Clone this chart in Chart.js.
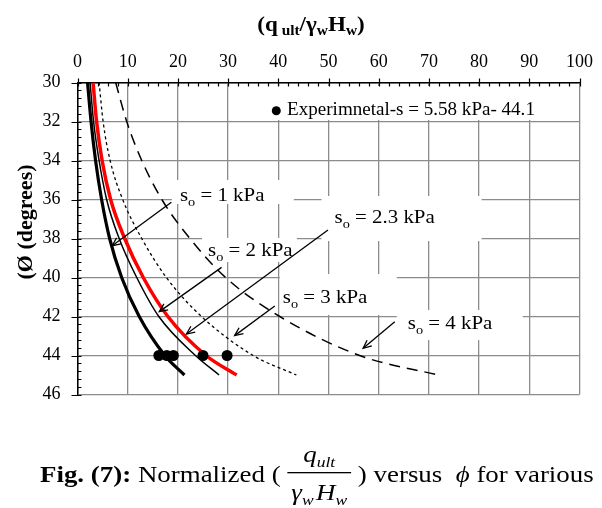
<!DOCTYPE html>
<html>
<head>
<meta charset="utf-8">
<script src="https://cdn.jsdelivr.net/npm/chart.js@4.4.0/dist/chart.umd.min.js"></script>
<style>
html, body { margin: 0; padding: 0; background: #fff; }
#wrap { width: 602px; height: 508px; }
</style>
</head>
<body>
<div id="wrap"><canvas id="chart" width="602" height="508"></canvas></div>
<script>
// values (phi in degrees, q normalised)
const phi  = [30, 32, 34, 36, 38, 40, 42, 44, 45];
const qS1  = [2.0, 2.7, 3.6, 4.8, 6.4, 8.8, 12.3, 17.4, 21.3];
const qS2  = [2.5, 3.2, 4.3, 5.8, 8.3, 11.8, 16.2, 23.5, 28.2];
const qS23 = [3.1, 3.8, 4.9, 6.6, 9.4, 13.1, 18.0, 25.6, 31.7];
const qS3  = [4.3, 5.1, 6.5, 9.0, 12.8, 17.7, 24.7, 35.0, 43.6];
const qS4  = [7.6, 9.8, 12.8, 16.8, 22.4, 29.5, 40.3, 56.2, 71.8];
const expQ   = [16.2, 17.8, 19.1, 25.0, 29.8];
const expPhi = [44, 44, 44, 44, 44];
const soValues = ['1', '2', '2.3', '3', '4'];
const legendText = 'Experimnetal-s = 5.58 kPa- 44.1';

const SERIF = '"Liberation Serif", "Times New Roman", serif';
Chart.defaults.font.family = SERIF;

// annotation layout, in axis units
const notes = [
  { text: [20.4, 36.06], box: [18.8, 35.0, 43.1, 36.23],  from: [18.7, 36.14], to: [6.9, 38.37] },
  { text: [26.0, 38.90], box: [24.8, 37.97, 43.7, 39.21], from: [28.7, 39.48], to: [16.3, 41.75] },
  { text: [51.2, 37.22], box: [48.6, 35.82, 80.5, 38.13], from: [49.9, 37.56], to: [21.7, 42.9] },
  { text: [40.9, 41.32], box: [40.3, 39.82, 63.6, 41.92], from: [39.3, 41.46], to: [31.3, 42.98] },
  { text: [65.8, 42.64], box: [63.6, 41.67, 88.7, 43.21], from: [63.2, 42.27], to: [56.9, 43.63] }
];
const legendBox = [34.7, 30.18, 93.0, 31.92];
const legendDot = [39.6, 31.45];
const legendAt = [41.75, 31.67];

function pts(xs, ys) { return xs.map((v, i) => ({ x: v, y: ys[i] })); }

function drawRuns(ctx, runs, x, y, sx) {
  ctx.save();
  ctx.translate(x, y);
  ctx.scale(sx, 1);
  let cx = 0;
  runs.forEach(r => {
    ctx.font = r.f + ' ' + SERIF;
    ctx.fillText(r.t, cx + (r.dx || 0), r.dy || 0);
    cx += ctx.measureText(r.t).width + (r.dx || 0);
  });
  ctx.restore();
  return cx * sx;
}
function runsWidth(ctx, runs, sx) {
  ctx.save();
  let w = 0;
  runs.forEach(r => { ctx.font = r.f + ' ' + SERIF; w += ctx.measureText(r.t).width + (r.dx || 0); });
  ctx.restore();
  return w * sx;
}

function arrow(ctx, x0, y0, x1, y1) {
  ctx.beginPath(); ctx.moveTo(x0, y0); ctx.lineTo(x1, y1); ctx.stroke();
  const a = Math.atan2(y1 - y0, x1 - x0), L = 9, w = 0.42;
  ctx.beginPath();
  ctx.moveTo(x1 - L * Math.cos(a - w), y1 - L * Math.sin(a - w));
  ctx.lineTo(x1, y1);
  ctx.lineTo(x1 - L * Math.cos(a + w), y1 - L * Math.sin(a + w));
  ctx.stroke();
}

const decor = {
  id: 'decor',
  beforeDatasetsDraw(chart) {
    const { ctx, scales: { x, y } } = chart;
    ctx.save();
    ctx.fillStyle = '#fff';
    notes.map(n => n.box).concat([legendBox]).forEach(b => {
      const x0 = x.getPixelForValue(b[0]), y0 = y.getPixelForValue(b[1]);
      const x1 = x.getPixelForValue(b[2]), y1 = y.getPixelForValue(b[3]);
      ctx.fillRect(x0, y0, x1 - x0, y1 - y0);
    });
    ctx.restore();
  },
  afterDatasetsDraw(chart) {
    const { ctx, scales: { x, y } } = chart;
    ctx.save();
    ctx.strokeStyle = '#000';
    ctx.fillStyle = '#000';
    ctx.lineWidth = 1.3;
    notes.forEach((n, i) => {
      arrow(ctx, x.getPixelForValue(n.from[0]), y.getPixelForValue(n.from[1]),
                 x.getPixelForValue(n.to[0]), y.getPixelForValue(n.to[1]));
      drawRuns(ctx, [
        { t: 's', f: '19px' },
        { t: 'o', f: '13px', dy: 5 },
        { t: ' = ' + soValues[i] + ' kPa', f: '19px' }
      ], x.getPixelForValue(n.text[0]), y.getPixelForValue(n.text[1]), 1.1);
    });
    // legend
    ctx.beginPath();
    ctx.arc(x.getPixelForValue(legendDot[0]), y.getPixelForValue(legendDot[1]), 4.5, 0, Math.PI * 2);
    ctx.fill();
    drawRuns(ctx, [{ t: legendText, f: '18.5px' }],
      x.getPixelForValue(legendAt[0]), y.getPixelForValue(legendAt[1]), 1.03);
    ctx.restore();
  },
  afterDraw(chart) {
    const { ctx, chartArea: ca, scales: { x, y } } = chart;
    ctx.save();
    ctx.strokeStyle = '#000';
    ctx.lineWidth = 1.2;
    ctx.beginPath();
    for (let k = 0; k <= 50; k++) {
      const px = Math.round(x.getPixelForValue(k * 2)) + 0.5;
      ctx.moveTo(px, ca.top - (k % 5 === 0 ? 4 : 0));
      ctx.lineTo(px, ca.top + 4);
    }
    for (let k = 0; k <= 40; k++) {
      const py = Math.round(y.getPixelForValue(30 + k * 0.4)) + 0.5;
      ctx.moveTo(ca.left - (k % 5 === 0 ? 6 : 0), py);
      ctx.lineTo(ca.left + 4, py);
    }
    ctx.stroke();

    ctx.fillStyle = '#000';
    ctx.textBaseline = 'alphabetic';
    // top title
    const tRuns = [
      { t: '(q', f: 'bold 21px' },
      { t: ' ult', f: 'bold 14px', dy: 4 },
      { t: '/γ', f: 'bold 21px' },
      { t: 'w', f: 'bold 14px', dy: 4 },
      { t: 'H', f: 'bold 21px' },
      { t: 'w', f: 'bold 14px', dy: 4 },
      { t: ')', f: 'bold 21px' }
    ];
    const tw = runsWidth(ctx, tRuns, 1.1);
    drawRuns(ctx, tRuns, 311 - tw / 2, 31, 1.1);

    // y title
    ctx.save();
    ctx.translate(26, 222);
    ctx.rotate(-Math.PI / 2);
    ctx.font = 'bold 22px ' + SERIF;
    ctx.textAlign = 'center';
    ctx.textBaseline = 'middle';
    ctx.fillText('(Ø (degrees)', 0, 0);
    ctx.restore();

    // caption
    const sx = 1.17, base = 482;
    let cx = 40;
    cx += drawRuns(ctx, [{ t: 'Fig. (7):', f: 'bold 23px' }, { t: ' Normalized ( ', f: '23px' }], cx, base, sx);
    const num = [{ t: 'q', f: 'italic 23px' }, { t: 'ult', f: 'italic 15px', dy: 5 }];
    const den = [{ t: 'γ', f: 'italic 23px' }, { t: 'w', f: 'italic 15px', dy: 5 },
                 { t: 'H', f: 'italic 23px', dx: 2 }, { t: 'w', f: 'italic 15px', dy: 5 }];
    const nw = runsWidth(ctx, num, sx), dw = runsWidth(ctx, den, sx);
    const fw = Math.max(nw, dw) + 8;
    drawRuns(ctx, num, cx + (fw - nw) / 2, base - 20, sx);
    drawRuns(ctx, den, cx + (fw - dw) / 2, base + 18, sx);
    ctx.fillRect(cx, base - 10, fw, 1.3);
    cx += fw;
    cx += drawRuns(ctx, [{ t: ' ) versus  ', f: '23px' }, { t: 'ϕ', f: 'italic 23px' },
                         { t: ' for various', f: '23px' }], cx, base, sx);
    ctx.restore();
  }
};

const gridStyle = { color: '#8c8c8c', lineWidth: 1.3, drawTicks: false };
const tickFont = { family: SERIF, size: 18 };
const curve = { showLine: true, pointRadius: 0, cubicInterpolationMode: 'monotone' };

new Chart(document.getElementById('chart'), {
  type: 'scatter',
  data: {
    datasets: [
      { label: 'Experimental', data: pts(expQ, expPhi), pointRadius: 5.5, backgroundColor: '#000',
        borderWidth: 0, showLine: false },
      { ...curve, label: 's = 1 kPa', data: pts(qS1, phi), borderColor: '#000', borderWidth: 3.2 },
      { ...curve, label: 's = 2 kPa', data: pts(qS2, phi), borderColor: '#000', borderWidth: 1.5 },
      { ...curve, label: 's = 2.3 kPa', data: pts(qS23, phi), borderColor: '#ff0000', borderWidth: 3.5 },
      { ...curve, label: 's = 3 kPa', data: pts(qS3, phi), borderColor: '#000', borderWidth: 1.3,
        borderDash: [3, 3] },
      { ...curve, label: 's = 4 kPa', data: pts(qS4, phi), borderColor: '#000', borderWidth: 1.5,
        borderDash: [11, 7] }
    ]
  },
  options: {
    responsive: false,
    animation: false,
    devicePixelRatio: 1,
    layout: { padding: { left: 0, top: 0, right: 22, bottom: 113.5 } },
    plugins: { legend: { display: false }, tooltip: { enabled: false } },
    scales: {
      x: {
        type: 'linear', position: 'top', min: 0, max: 100,
        ticks: { stepSize: 10, padding: 9, color: '#000', font: tickFont, maxRotation: 0 },
        grid: gridStyle,
        border: { color: '#000', width: 1.5 },
        afterFit(s) { s.height = 82.5; }
      },
      y: {
        type: 'linear', reverse: true, min: 30, max: 46,
        ticks: { stepSize: 2, padding: 17, color: '#000', font: tickFont },
        grid: gridStyle,
        border: { color: '#000', width: 1.5 },
        afterFit(s) { s.width = 77.5; }
      }
    }
  },
  plugins: [decor]
});
</script>
</body>
</html>
